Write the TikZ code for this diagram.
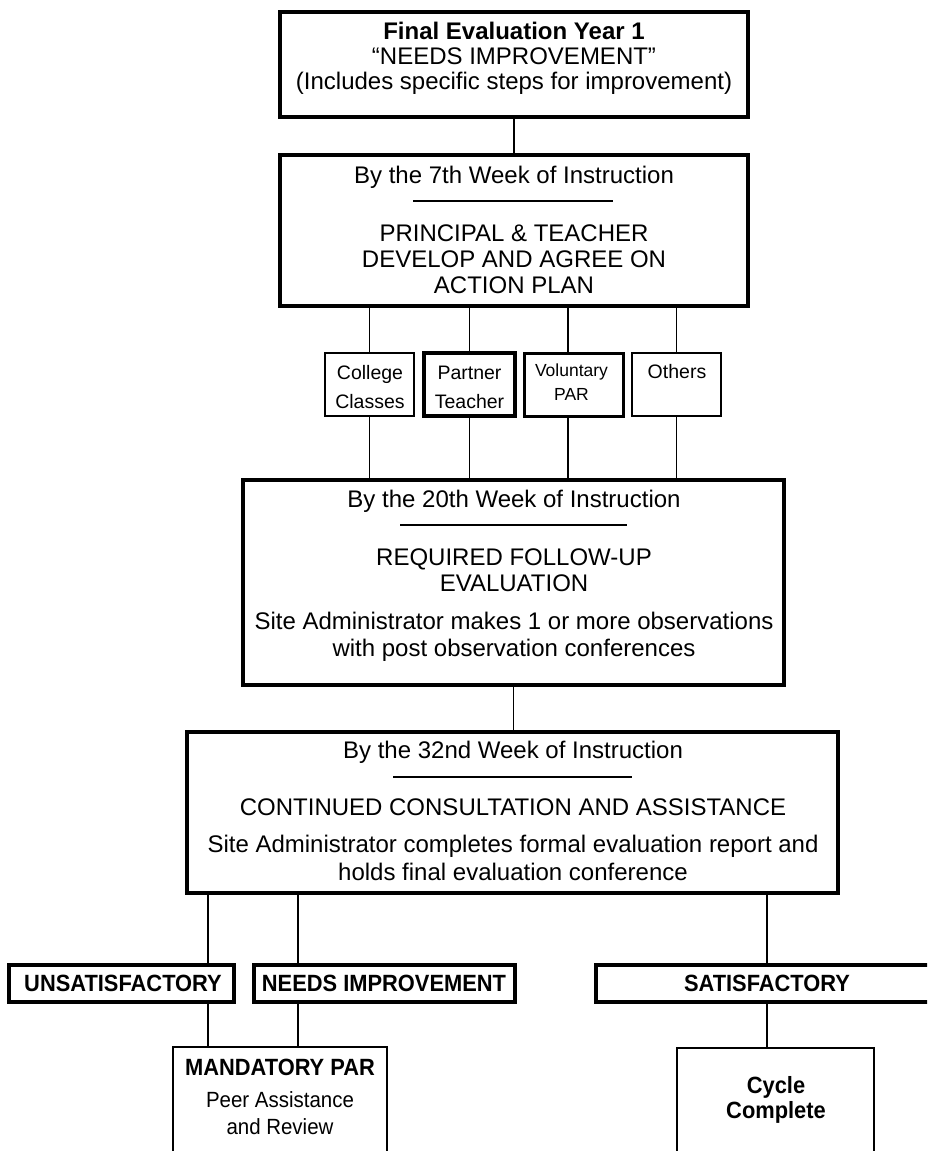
\documentclass[tikz,border=0pt]{standalone}
\usepackage{fontspec}
\setmainfont{Liberation Sans}
\newfontfamily\condf[FakeStretch=0.93]{Liberation Sans}
\begin{document}
\begin{tikzpicture}[x=1pt,y=-1pt,
  box/.style={draw, line width=3.3pt, inner sep=0pt},
  sbox/.style={draw, line width=2.4pt, inner sep=0pt},
  lbl/.style={draw, line width=3.4pt, inner sep=0pt},
  conn/.style={line width=1.4pt},
  rulel/.style={line width=1.3pt},
  txt/.style={inner sep=0pt, align=center, font=\fontsize{24}{26}\selectfont},
  stxt/.style={inner sep=0pt, align=center, font=\fontsize{19.5}{29}\selectfont},
  ctxt/.style={inner sep=0pt, align=center, font=\condf\bfseries\fontsize{23.5}{25}\selectfont}]
\useasboundingbox (0,0) rectangle (927,1151);
\fill[white] (0,0) rectangle (927,1151);
\clip (0,0) rectangle (927,1151);

% boxes
\node[box, minimum width=468pt, minimum height=105pt] (b1) at (514,64.5) {};
\node[box, minimum width=468pt, minimum height=151pt] (b2) at (514,230.5) {};
\node[sbox, minimum width=89pt, minimum height=63pt] (cc) at (369.5,384.5) {};
\node[sbox, line width=3.2pt, minimum width=91pt, minimum height=63pt] (pt) at (469.5,384.5) {};
\node[sbox, line width=3pt, minimum width=99pt, minimum height=63pt] (vp) at (573.5,384.5) {};
\node[sbox, minimum width=89pt, minimum height=63pt] (ot) at (676.5,384.5) {};
\node[box, minimum width=541pt, minimum height=205pt] (b3) at (513.5,582.5) {};
\node[box, minimum width=651pt, minimum height=161pt] (b4) at (512.5,812.5) {};
\node[lbl, minimum width=225pt, minimum height=37pt] (unsat) at (121.5,983.5) {};
\node[lbl, minimum width=261pt, minimum height=37pt] (needs) at (384.5,983.5) {};
\node[lbl, minimum width=364pt, minimum height=37pt] (sat) at (778,983.5) {};
\node[box, line width=2.8pt, minimum width=214pt, minimum height=133pt] (mand) at (280,1113.5) {};
\node[box, line width=2.8pt, minimum width=197pt, minimum height=132pt] (cyc) at (775.5,1114) {};

% connector positions
\coordinate (xv) at (568,0);
\coordinate (xu) at (208,0);
\coordinate (xn) at (298,0);
\coordinate (xs) at (767,0);

% connectors
\draw[conn] (b1.south) -- (b2.north);
\draw[conn] (b2.south -| cc.north) -- (cc.north);
\draw[conn] (b2.south -| pt.north) -- (pt.north);
\draw[conn] (b2.south -| xv) -- (vp.north -| xv);
\draw[conn] (b2.south -| ot.north) -- (ot.north);
\draw[conn] (cc.south) -- (cc.south |- b3.north);
\draw[conn] (pt.south) -- (pt.south |- b3.north);
\draw[conn] (vp.south -| xv) -- (b3.north -| xv);
\draw[conn] (ot.south) -- (ot.south |- b3.north);
\draw[conn] (b3.south) -- (b3.south |- b4.north);
\draw[conn] (b4.south -| xu) -- (unsat.north -| xu);
\draw[conn] (unsat.south -| xu) -- (mand.north -| xu);
\draw[conn] (b4.south -| xn) -- (needs.north -| xn);
\draw[conn] (needs.south -| xn) -- (mand.north -| xn);
\draw[conn] (b4.south -| xs) -- (sat.north -| xs);
\draw[conn] (sat.south -| xs) -- (cyc.north -| xs);

% box 1
\node[txt, font=\fontsize{24}{25}\selectfont] (t1) at (514,58) {{\bfseries Final Evaluation Year 1}\\“NEEDS IMPROVEMENT”\\(Includes specific steps for improvement)};

% box 2
\node[txt] (t2a) at (514,177) {By the 7th Week of Instruction};
\draw[rulel] (413,201) -- (613,201);
\node[txt] (t2b) at (514,259) {PRINCIPAL \& TEACHER\\DEVELOP AND AGREE ON\\ACTION PLAN};

% small boxes
\node[stxt] (tcc) at (370,387) {College\\Classes};
\node[stxt] (tpt) at (469.5,387) {Partner\\Teacher};
\node[stxt, font=\fontsize{17.5}{24}\selectfont] (tvp) at (571.5,382) {Voluntary\\PAR};
\node[stxt] (tot) at (677,372) {Others};

% box 3
\node[txt] (t3a) at (514,501) {By the 20th Week of Instruction};
\draw[rulel] (400,525) -- (627,525);
\node[txt] (t3b) at (514,570) {REQUIRED FOLLOW-UP\\EVALUATION};
\node[txt, font=\fontsize{24}{27}\selectfont] (t3c) at (514,636.5) {Site Administrator makes 1 or more observations\\with post observation conferences};

% box 4
\node[txt] (t4a) at (513,752) {By the 32nd Week of Instruction};
\draw[rulel] (393,777) -- (632,777);
\node[txt] (t4b) at (513,807) {CONTINUED CONSULTATION AND ASSISTANCE};
\node[txt, font=\fontsize{24}{28}\selectfont] (t4c) at (513,858) {Site Administrator completes formal evaluation report and\\holds final evaluation conference};

% bottom labels
\node[ctxt] (tun) at (123,983.5) {UNSATISFACTORY};
\node[ctxt] (tne) at (384,983.5) {NEEDS IMPROVEMENT};
\node[ctxt] (tsa) at (767,983.5) {SATISFACTORY};

% bottom boxes
\node[ctxt] (tma) at (280,1067) {MANDATORY PAR};
\node[ctxt, font=\condf\fontsize{22}{27}\selectfont] (tpe) at (280,1113.5) {Peer Assistance\\and Review};
\node[ctxt] (tcy) at (776,1099.5) {Cycle\\Complete};
\end{tikzpicture}
\end{document}
